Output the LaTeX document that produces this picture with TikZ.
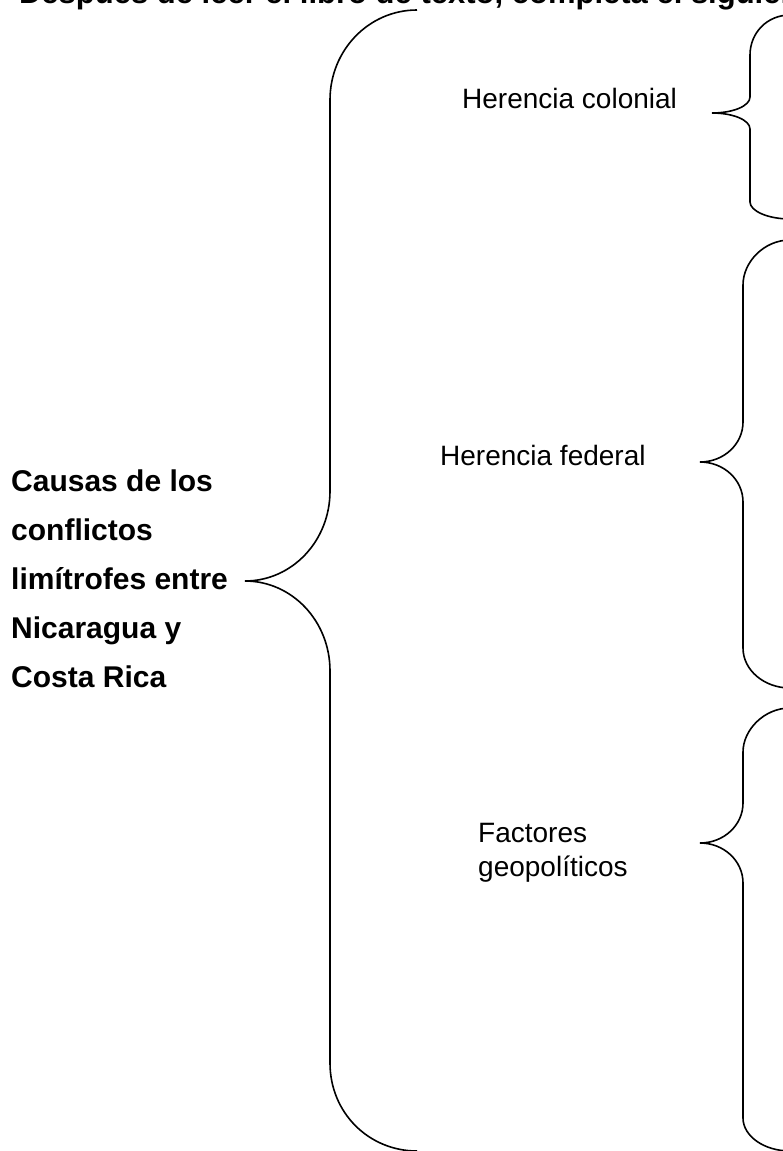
\documentclass[tikz,border=0pt]{standalone}
\usepackage{fontspec}
\setmainfont{Liberation Sans}
\usetikzlibrary{positioning}

\tikzset{
  llave/.style={line width=1.6pt, line join=round},
  rotulo/.style={anchor=base west, inner sep=0pt, font=\fontsize{28}{33}\selectfont},
  tema/.style={anchor=base west, inner sep=0pt, font=\fontsize{30}{36}\selectfont\bfseries}
}

\begin{document}
\begin{tikzpicture}[x=1pt, y=-1pt]
    % picture frame (pixels of the sheet)
    \clip (0,0) rectangle (783,1151);

    % title, cut at the top of the sheet
    \node[tema, font=\fontsize{31}{36}\selectfont\bfseries] (titulo) at (0,4) {- Después de leer el libro de texto, completa el siguiente};

    % main theme
    \foreach \linea [count=\i] in {Causas de los, conflictos, limítrofes entre, Nicaragua y, Costa Rica}
      \node[tema] (causa\i) at (11,{491+49*(\i-1)}) {\linea};

    % big brace
    \coordinate (puntaA) at (245,581);
    \draw[llave] (417,10) .. controls (369,10) and (330,50) .. (330,100) -- (330,491)
      .. controls (330,541) and (292,581) .. (puntaA);
    \draw[llave] (puntaA) .. controls (292,581) and (330,621) .. (330,671) -- (330,1063)
      .. controls (330,1113) and (369,1151) .. (417,1151);

    % the three causes
    \node[rotulo] (colonial) at (462,108) {Herencia colonial};
    \node[rotulo] (federal) at (440,465) {Herencia federal};
    \node[rotulo] (factores) at (478,842) {Factores};
    \node[rotulo] (geopol) at (478,876) {geopolíticos};

    % brace 1
    \coordinate (puntaB) at (712,113);
    \draw[llave] (790,15) .. controls (767,15) and (750,33) .. (750,55) -- (750,97)
      .. controls (750,106) and (733,113) .. (puntaB);
    \draw[llave] (puntaB) .. controls (733,113) and (750,120) .. (750,129) -- (750,202)
      .. controls (750,211) and (768,219) .. (790,219);

    % brace 2
    \coordinate (puntaC) at (700,462);
    \draw[llave] (790,240) .. controls (764,240) and (743,262) .. (743,285) -- (743,422)
      .. controls (743,444) and (724,462) .. (puntaC);
    \draw[llave] (puntaC) .. controls (724,462) and (743,480) .. (743,502) -- (743,648)
      .. controls (743,670) and (764,688) .. (790,688);

    % brace 3
    \coordinate (puntaD) at (700,843);
    \draw[llave] (790,708) .. controls (764,708) and (743,730) .. (743,752) -- (743,803)
      .. controls (743,825) and (724,843) .. (puntaD);
    \draw[llave] (puntaD) .. controls (724,843) and (743,861) .. (743,883) -- (743,1118)
      .. controls (743,1136) and (764,1151) .. (790,1151);
\end{tikzpicture}
\end{document}
